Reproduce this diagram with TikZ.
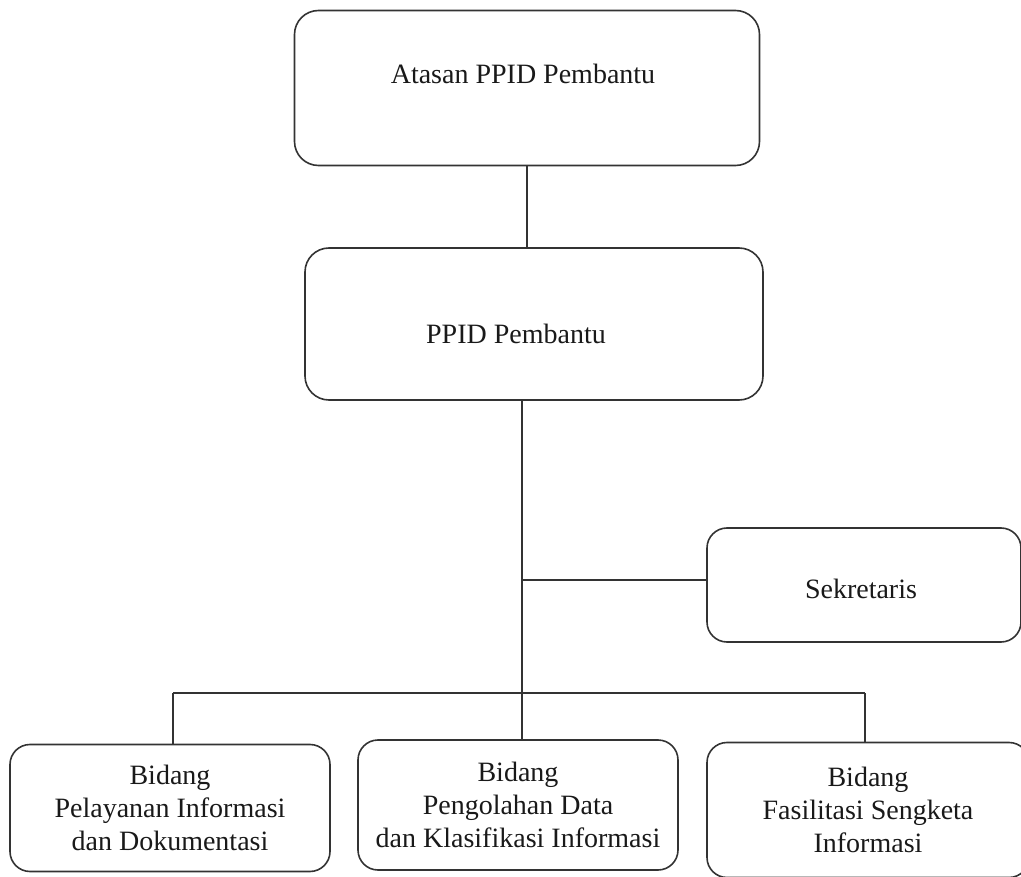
\documentclass[tikz,border=0pt]{standalone}
\usepackage{fontspec}
\setmainfont{Liberation Serif}
\begin{document}
\begin{tikzpicture}[x=1pt,y=-1pt,
  txt/.style={text=black!90, font=\fontsize{28}{33}\selectfont, align=center},
  orgbox/.style={draw=black!80, line width=1.6pt, rounded corners=24pt, rectangle,
    inner sep=0pt, txt},
  link/.style={draw=black!80, line width=1.6pt}]
\useasboundingbox (0,0) rectangle (1021,877);
\node[orgbox, minimum width=465pt, minimum height=155pt,
  label={[txt, xshift=-4pt, yshift=14pt]center:Atasan PPID Pembantu}] (atasan) at (527,88) {};
\node[orgbox, minimum width=458pt, minimum height=152pt,
  label={[txt, xshift=-18pt, yshift=-10pt]center:PPID Pembantu}] (ppid) at (534,324) {};
\node[orgbox, minimum width=314pt, minimum height=114pt, rounded corners=20pt,
  label={[txt, xshift=-3pt, yshift=-4pt]center:Sekretaris}] (sek) at (864,585) {};
\node[orgbox, minimum width=320pt, minimum height=127pt, rounded corners=20pt] (b1) at (170,808) {Bidang\\Pelayanan Informasi\\dan Dokumentasi};
\node[orgbox, minimum width=320pt, minimum height=130pt, rounded corners=20pt] (b2) at (518,805) {Bidang\\Pengolahan Data\\dan Klasifikasi Informasi};
\node[orgbox, minimum width=322pt, minimum height=135pt, rounded corners=20pt] (b3) at (868,810) {Bidang\\Fasilitasi Sengketa\\Informasi};
\coordinate (j1) at (522,580);
\coordinate (j2) at (522,693);
\coordinate (l1) at (173,693);
\coordinate (r1) at (865,693);
\draw[link] (atasan.south) -- (atasan.south |- ppid.north);
\draw[link] (j1 |- ppid.south) -- (j2);
\draw[link] (j1) -- (j1 -| sek.west);
\draw[link] (l1) -- (r1);
\draw[link] (l1) -- (l1 |- b1.north);
\draw[link] (j2) -- (j2 |- b2.north);
\draw[link] (r1) -- (r1 |- b3.north);
\end{tikzpicture}
\end{document}
